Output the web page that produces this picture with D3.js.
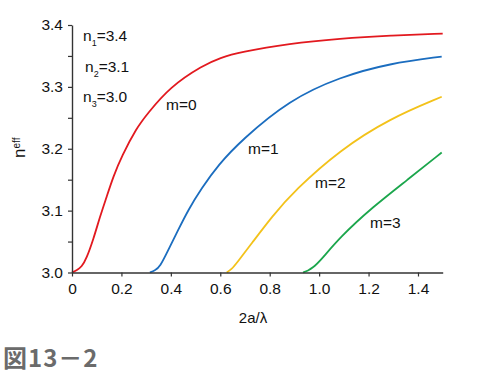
<!DOCTYPE html>
<html>
<head>
<meta charset="utf-8">
<script src="https://cdn.jsdelivr.net/npm/d3@7"></script>
<style>
body { margin: 0; background: #fff; }
text { font-family: "Liberation Sans", Arial, sans-serif; }
</style>
</head>
<body>
<script>
// data
var xTicks = [0, 0.2, 0.4, 0.6, 0.8, 1.0, 1.2, 1.4];
var xTickLabels = ["0", "0.2", "0.4", "0.6", "0.8", "1.0", "1.2", "1.4"];
var yTicks = [3.0, 3.05, 3.1, 3.15, 3.2, 3.25, 3.3, 3.35, 3.4];
var yTickLabels = ["3.0", "", "3.1", "", "3.2", "", "3.3", "", "3.4"];

var modes = ["m=0", "m=1", "m=2", "m=3"];
var colors = ["#e2191f", "#1b6dbf", "#f3c21a", "#1ba64c"];

var m0x = [0, 0.02, 0.039, 0.059, 0.086, 0.113, 0.140, 0.167, 0.201, 0.262, 0.302, 0.396, 0.531, 0.60, 0.679, 0.88, 1.084, 1.29, 1.5];
var m0y = [3.0, 3.004, 3.009, 3.023, 3.053, 3.090, 3.122, 3.155, 3.188, 3.234, 3.255, 3.300, 3.335, 3.347, 3.356, 3.370, 3.378, 3.383, 3.386];
var m1x = [0.315, 0.335, 0.356, 0.389, 0.430, 0.470, 0.524, 0.592, 0.686, 0.88, 1.084, 1.286, 1.496];
var m1y = [3.0, 3.003, 3.009, 3.036, 3.069, 3.101, 3.136, 3.174, 3.214, 3.279, 3.316, 3.338, 3.349];
var m2x = [0.626, 0.645, 0.666, 0.727, 0.808, 0.902, 1.084, 1.286, 1.496];
var m2y = [3.0, 3.005, 3.015, 3.047, 3.090, 3.133, 3.198, 3.249, 3.284];
var m3x = [0.935, 0.955, 0.975, 1.003, 1.084, 1.217, 1.355, 1.496];
var m3y = [3.0, 3.003, 3.008, 3.018, 3.057, 3.106, 3.149, 3.194];

var curvesX = [m0x, m1x, m2x, m3x];
var curvesY = [m0y, m1y, m2y, m3y];

var width = 480, height = 373;

var x = d3.scaleLinear().domain([0, 1.5]).range([72, 442.7]);
var y = d3.scaleLinear().domain([3.0, 3.4]).range([272.5, 25]);

var svg = d3.select("body").append("svg")
  .attr("width", width)
  .attr("height", height);

// curves
var line = d3.line()
  .x(function(d) { return x(d[0]); })
  .y(function(d) { return y(d[1]); })
  .curve(d3.curveBasis);

curvesX.forEach(function(xs, i) {
  var pts = xs.map(function(v, j) { return [v, curvesY[i][j]]; });
  svg.append("path")
    .datum(pts)
    .attr("fill", "none")
    .attr("stroke", colors[i])
    .attr("stroke-width", 1.8)
    .attr("d", line);
});

// Y axis
var yAxis = svg.append("g")
  .attr("transform", "translate(72,0)")
  .call(d3.axisLeft(y).tickValues(yTicks).tickSize(4).tickSizeOuter(0)
    .tickPadding(5)
    .tickFormat(function(d, i) { return yTickLabels[i]; }));

// X axis
var xAxis = svg.append("g")
  .attr("transform", "translate(0,272.5)")
  .call(d3.axisBottom(x).tickValues(xTicks).tickSize(4).tickSizeOuter(0)
    .tickPadding(6)
    .tickFormat(function(d, i) { return xTickLabels[i]; }));

[yAxis, xAxis].forEach(function(g) {
  g.select(".domain").attr("stroke", "#333").attr("stroke-width", 1.4);
  g.selectAll(".tick line").attr("stroke", "#333").attr("stroke-width", 1.2);
  g.selectAll(".tick text")
    .attr("fill", "#111")
    .style("font-size", "15.5px")
    .style("font-family", "'Liberation Sans', Arial, sans-serif");
});

// axis titles
svg.append("text")
  .attr("x", 253)
  .attr("y", 323)
  .attr("text-anchor", "middle")
  .style("font-size", "15px")
  .attr("fill", "#111")
  .text("2a/λ");

var yl = svg.append("text")
  .attr("transform", "translate(25,158) rotate(-90)")
  .style("font-size", "17px")
  .attr("fill", "#111");
yl.append("tspan").text("n");
yl.append("tspan").attr("dy", -5).style("font-size", "10px").text("eff");

// refractive indices
var nLabels = [["1", "=3.4", 83, 41], ["2", "=3.1", 85, 72], ["3", "=3.0", 83, 102]];
nLabels.forEach(function(n) {
  var t = svg.append("text")
    .attr("x", n[2])
    .attr("y", n[3])
    .style("font-size", "15.5px")
    .attr("fill", "#111");
  t.append("tspan").text("n");
  t.append("tspan").attr("dy", 5).style("font-size", "9px").text(n[0]);
  t.append("tspan").attr("dy", -5).text(n[1]);
});

// mode labels
var labelPos = [[166, 110], [248, 154], [315, 188], [370, 228]];
modes.forEach(function(m, i) {
  svg.append("text")
    .attr("x", labelPos[i][0])
    .attr("y", labelPos[i][1])
    .style("font-size", "15.5px")
    .attr("fill", "#111")
    .text(m);
});

// caption
svg.append("text")
  .attr("x", 3)
  .attr("y", 367)
  .style("font-family", "'Noto Sans CJK JP', sans-serif")
  .style("font-size", "24px")
  .style("font-weight", "bold")
  .style("letter-spacing", "1px")
  .attr("fill", "#6b6b6b")
  .text("図13－2");
</script>
</body>
</html>
